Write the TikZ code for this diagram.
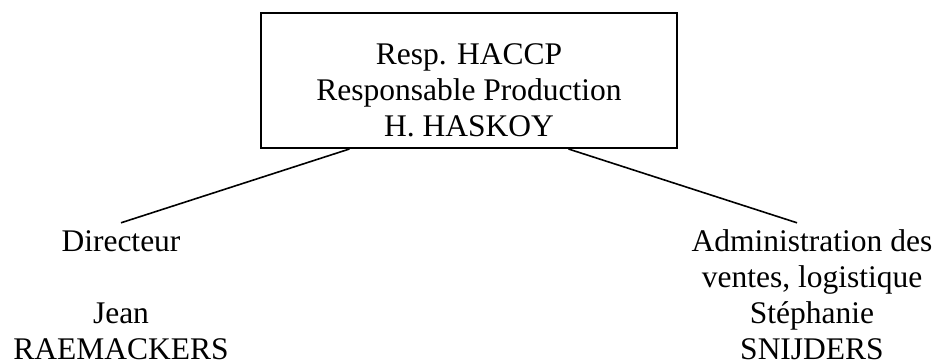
\documentclass[tikz,border=0pt]{standalone}
\usepackage{fontspec}
\setmainfont{Liberation Serif}
\usetikzlibrary{backgrounds}
\usetikzlibrary{calc,positioning}

\begin{document}
\begin{tikzpicture}[
    x=1pt, y=-1pt,
    show background rectangle,
    tight background=0,
    background rectangle/.style={fill=white},
    every node/.style={font=\fontsize{31.5}{36}\selectfont, inner sep=0pt, align=center},
    chef/.style={draw, line width=2pt, minimum width=416pt, text height=124pt, text depth=11pt},
    poste/.style={text height=136.5pt},
    lien/.style={line width=1.6pt},
 ]
    \useasboundingbox (0,0) rectangle (937,363);

    % the base anchor sits on the last line
    \node[chef, anchor=base] (HACCP) at (469,137)
        {Resp. HACCP\\Responsable Production\\H. HASKOY};

    \node[poste, anchor=base] (DIR) at (121,359.5)
        {Directeur\\ \\Jean\\RAEMACKERS};
    \node[poste, anchor=base] (ADM) at (812,359.5)
        {Administration des\\ventes, logistique\\St\'ephanie\\SNIJDERS};

    \draw[lien] ($(HACCP.south west)!0.214!(HACCP.south east)$) -- (DIR.north);
    \draw[lien] ($(HACCP.south west)!0.738!(HACCP.south east)$)
        -- ($(ADM.north)+(-15,0)$);
\end{tikzpicture}
\end{document}
